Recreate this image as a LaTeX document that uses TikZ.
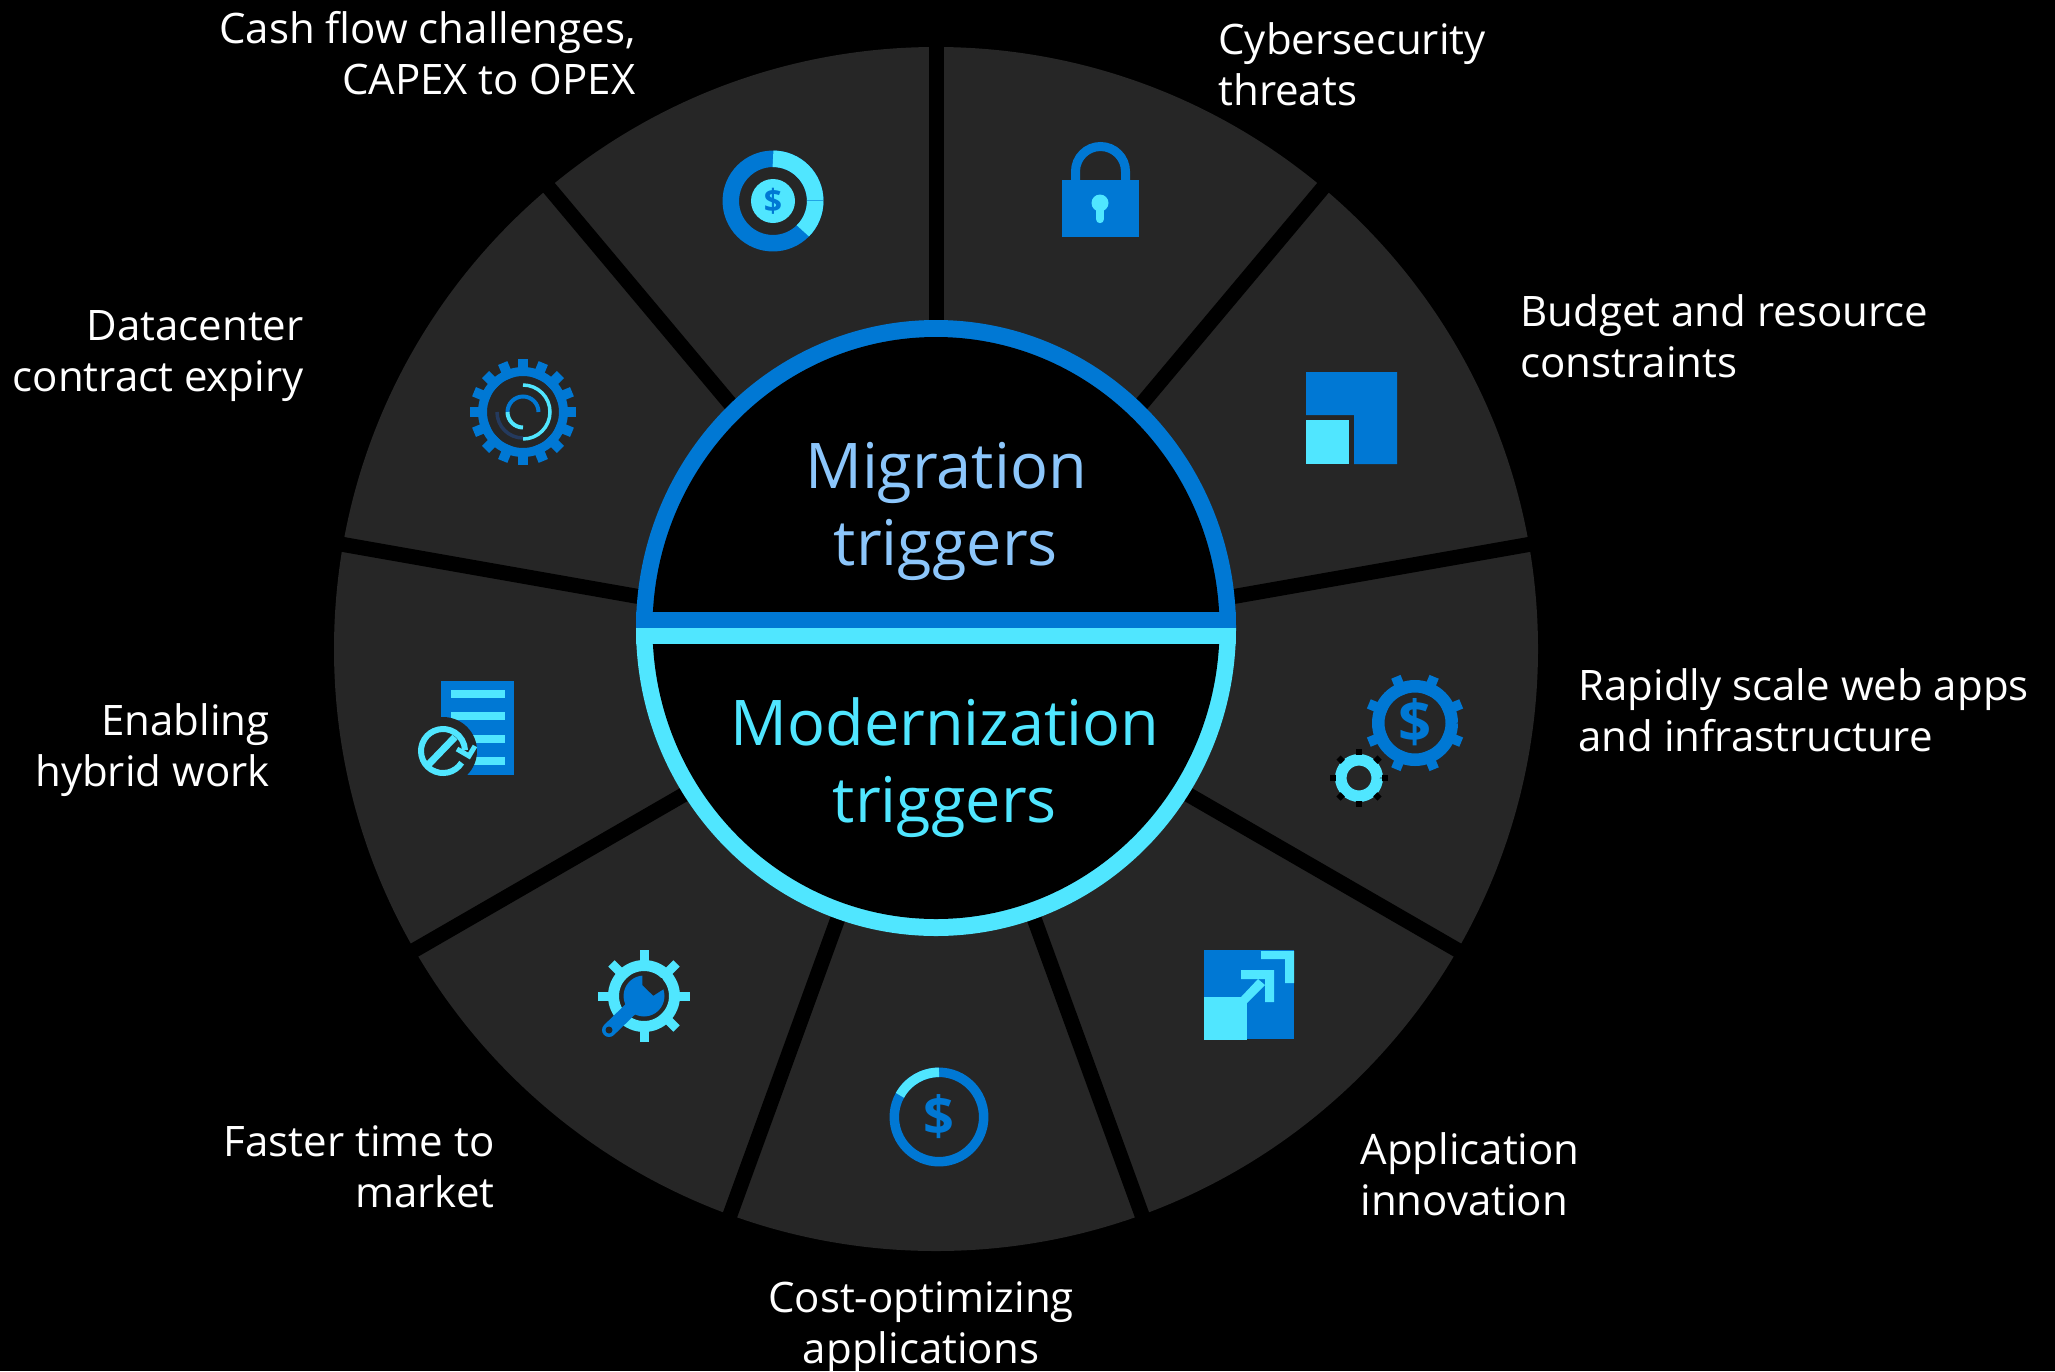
\documentclass[tikz,border=0pt]{standalone}
\usepackage{fontspec}
\usepackage{tikz}
\usetikzlibrary{calc}
\setmainfont{Open Sans}
\definecolor{azblue}{HTML}{0078D4}
\definecolor{azcyan}{HTML}{50E6FF}
\definecolor{azdark}{HTML}{262626}
\definecolor{azlight}{HTML}{8CC6FB}
\definecolor{aznavy}{HTML}{243A5E}
\tikzset{lbl/.style = {font=\fontsize{21}{25.5}\selectfont,text=white,inner sep=0pt}}
\tikzset{lblleft/.style = {lbl,align=left,anchor=base west}}
\tikzset{lblright/.style = {lbl,align=right,anchor=base east}}
\tikzset{title/.style = {font=\fontsize{31.5}{38.5}\selectfont,text=#1,inner sep=0pt,align=center,anchor=base}}
\tikzset{dollar/.style = {font=\bfseries\fontsize{#1}{#1}\selectfont,text=azblue,inner sep=0pt}}
\NewDocumentCommand{\farc}{m m m m m m}{%
	\draw[#1,line width=(#4)*0.5pt] ($(#2)+(#5:{#3})$) arc[start angle=#5,end angle=#6,radius={#3}];
}
\NewDocumentCommand{\fgear}{m m m m m m m m}{%
	\foreach \k in {1,...,#6}{
		\draw[#1,line width=#7*0.5pt] ($(#2)+(\k*360/#6+#8:#3)$) -- ($(#2)+(\k*360/#6+#8:#5)$);
	}
	\farc{#1}{#2}{(#3+#4)/2}{#4-#3}{0}{360}
}

\begin{document}
\begin{tikzpicture}[x=0.5pt,y=-0.5pt]
\useasboundingbox (0,0) rectangle (2055,1371);
\fill[black] (0,0) rectangle (2055,1371);
\coordinate (c) at (936,649);
\coordinate (h) at (936,628);
\fill[azdark] (c) circle[radius=602];
\foreach \a in {-90,-50,-10,30,70,110,150,190,230}{
	\draw[black,line width=7.5pt] (c) -- ($(c)+(\a:615)$);
}
% middle
\fill[azblue] (636,628) arc[start angle=180,end angle=360,x radius=300,y radius=308] -- cycle;
\fill[azcyan] (636,628) arc[start angle=180,end angle=0,x radius=300,y radius=308] -- cycle;
\fill[black] (h) ellipse[x radius=283.5,y radius=291];
\fill[azblue] (636,612) rectangle (1236,628);
\fill[azcyan] (636,628) rectangle (1236,644);
\node[title=azlight] (migration) at (946,565) {Migration\\triggers};
\node[title=azcyan] (modern) at (945,822) {Modernization\\triggers};

% labels
\node[lblright] (cash) at (636,94) {Cash flow challenges,\\CAPEX to OPEX};
\node[lblleft] (cyber) at (1218,105) {Cybersecurity\\threats};
\node[lblleft] (budget) at (1520,377) {Budget and resource\\constraints};
\node[lblleft] (rapid) at (1578,751) {Rapidly scale web apps\\and infrastructure};
\node[lblleft] (appinno) at (1360,1215) {Application\\innovation};
\node[lbl,align=center,anchor=base] (cost) at (921,1363) {Cost-optimizing\\applications};
\node[lblright] (faster) at (495,1207) {Faster time to\\market};
\node[lblright] (hybrid) at (270,786) {Enabling\\hybrid work};
\node[lblright] (dcenter) at (304,391) {Datacenter\\contract expiry};

% cash flow
\farc{azblue}{773,201}{42.2}{16.5}{0}{360}
\farc{azcyan}{773,201}{42.2}{16.5}{-90}{45}
\draw[azblue!60!azcyan,line width=0.3pt] (807,200) -- (823,200);
\fill[azcyan] (773,201) circle[radius=22];
\node[dollar=16] (dollarcash) at (773,201) {\$};

% lock
\fill[azblue] (1062,180) rectangle (1139,237);
\draw[azblue,line width=4.5pt] (1075.5,181) -- (1075.5,171.5) arc[start angle=180,end angle=360,radius=25] -- (1125.5,181);
\fill[azcyan] (1100,203) circle[radius=8.5];
\draw[azcyan,line width=4.2pt,line cap=round] (1100,205) -- (1100,219);

% budget
\fill[azblue] (1306,372) -- (1397,372) -- (1397,464) -- (1354,464) -- (1354,415) -- (1306,415) -- cycle;
\fill[azcyan] (1306,420) rectangle (1349,464);

% datacenter gear
\fgear{azblue}{523,412}{36}{45}{53}{16}{10}{0}
\farc{azcyan}{523,412}{27}{3.5}{-90}{90}
\farc{aznavy}{523,412}{26}{3.5}{90}{180}
\farc{azblue}{523,412}{15.5}{4}{180}{360}
\farc{azcyan}{523,412}{15.5}{4}{90}{180}

% hybrid work
\fill[azblue] (441,681) rectangle (514,775);
\foreach \b in {690,712,735,757}{
	\fill[azcyan] (451,\b) rectangle (505,\b+8);
}
\fill[azdark] (443,751) circle[radius=34];
\farc{azcyan}{443,751}{22}{6}{32}{358}
\draw[azcyan,line width=3.5pt] (428,765) -- (455,737);
\draw[azcyan,line width=2.5pt] (457,749) -- (469,756) -- (475,746);

% rapid scale
\fgear{azblue}{1415,723}{30.5}{43}{50}{8}{10}{22.5}
\node[dollar=29] (dollarscale) at (1415,722) {\$};
\farc{azcyan}{1359,778}{18.2}{11.5}{0}{360}
\foreach \a in {0,45,...,315}{
	\fill[black,rotate around={\a:(1359,778)}] (1382,775) rectangle (1388,781);
}

% app innovation
\fill[azblue] (1204,950) rectangle (1294,1039);
\fill[azcyan] (1204,997) rectangle (1247,1040);
\fill[azcyan] (1261,951) -- (1294,951) -- (1294,983) -- (1285,983) -- (1285,959) -- (1261,959) -- cycle;
\fill[azcyan] (1241,970) -- (1274,970) -- (1274,1002) -- (1265,1002) -- (1265,979) -- (1241,979) -- cycle;
\fill[azcyan] (1241,997) -- (1258,979) -- (1265,985) -- (1247,1003) -- cycle;

% cost
\farc{azblue}{939,1117}{44.7}{9.5}{0}{360}
\farc{azcyan}{939,1117}{44.7}{9.5}{209}{270}
\node[dollar=27] (dollarcost) at (939,1117) {\$};

% faster time
\fgear{azcyan}{644,996}{25}{36}{46}{8}{9}{0}
\draw[azblue,line width=7pt,line cap=round] (644,996) -- (609,1030);
\fill[azblue] (644,996) circle[radius=20.5];
\fill[azdark] (642.3,974.3) -- (642.3,985) -- (653.3,995.7) -- (665.7,987.7) -- (662.3,978.3) -- cycle;
\fill[azdark] (609,1030) circle[radius=3.5];
\end{tikzpicture}
\end{document}
